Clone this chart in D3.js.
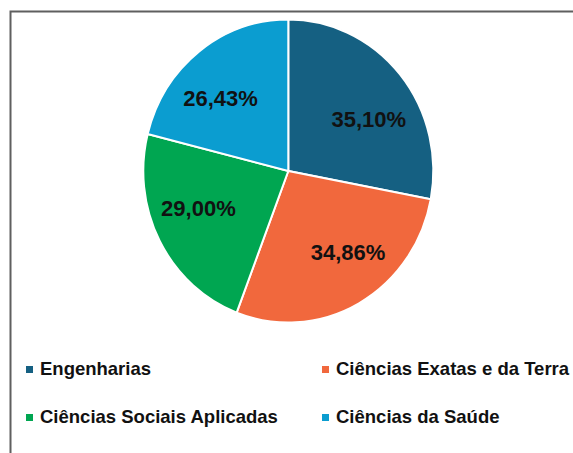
<!DOCTYPE html>
<html>
<head>
<meta charset="utf-8">
<script src="https://cdn.jsdelivr.net/npm/d3@7"></script>
<style>
  body { margin: 0; background: #fff; }
  svg { display: block; }
  text { font-family: "Liberation Sans", Arial, sans-serif; font-weight: bold; fill: #111; }
</style>
</head>
<body>
<script>
// data
const categories = ["Engenharias", "Ciências Exatas e da Terra", "Ciências Sociais Aplicadas", "Ciências da Saúde"]
const values = [35.10, 34.86, 29.00, 26.43]
const labels = ["35,10%", "34,86%", "29,00%", "26,43%"]
const colors = ["#156082", "#F1683D", "#00A651", "#0B9DD0"]

const W = 573, H = 453
const cx = 288.3, cy = 171, r = 145, sy = 1.045   // pie is a bit taller than wide in the original
const labelR = 98
const nudge = [[5, 14], [12, -8], [-3, -10], [-7.5, 8]]

const svg = d3.select('body').append('svg')
    .attr('width', W)
    .attr('height', H)

// chart frame (right/bottom edges fall outside the picture)
svg.append('rect')
    .attr('x', 10.5).attr('y', 11.5)
    .attr('width', 700).attr('height', 600)
    .attr('fill', 'none')
    .attr('stroke', '#5f5f5f')
    .attr('stroke-width', 2)

const pie = d3.pie().sort(null).value(d => d)
const arcs = pie(values)
const arc = d3.arc().innerRadius(0).outerRadius(r)
const labelArc = d3.arc().innerRadius(labelR).outerRadius(labelR)

const g = svg.append('g').attr('transform', `translate(${cx},${cy})`)

g.append('g')
    .attr('transform', `scale(1,${sy})`)
    .selectAll('path')
    .data(arcs)
    .join('path')
    .attr('d', arc)
    .attr('fill', (d, i) => colors[i])
    .attr('stroke', '#fff')
    .attr('stroke-width', 2)
    .attr('vector-effect', 'non-scaling-stroke')

g.selectAll('text.lbl')
    .data(arcs)
    .join('text')
    .attr('class', 'lbl')
    .attr('x', (d, i) => labelArc.centroid(d)[0] + nudge[i][0])
    .attr('y', (d, i) => labelArc.centroid(d)[1] * sy + nudge[i][1])
    .attr('text-anchor', 'middle')
    .attr('dominant-baseline', 'central')
    .style('font-size', '22px')
    .text((d, i) => labels[i])

// legend, 2 x 2
const colX = [26, 322], rowY = [375, 423]
const leg = svg.selectAll('g.leg')
    .data(categories)
    .join('g')
    .attr('class', 'leg')
    .attr('transform', (d, i) => `translate(${colX[i % 2]},${rowY[Math.floor(i / 2)]})`)

leg.append('rect')
    .attr('x', 0).attr('y', -9)
    .attr('width', 7).attr('height', 7)
    .attr('fill', (d, i) => colors[i])

leg.append('text')
    .attr('x', 14)
    .attr('y', 0)
    .style('font-size', '18.5px')
    .text(d => d)
</script>
</body>
</html>
